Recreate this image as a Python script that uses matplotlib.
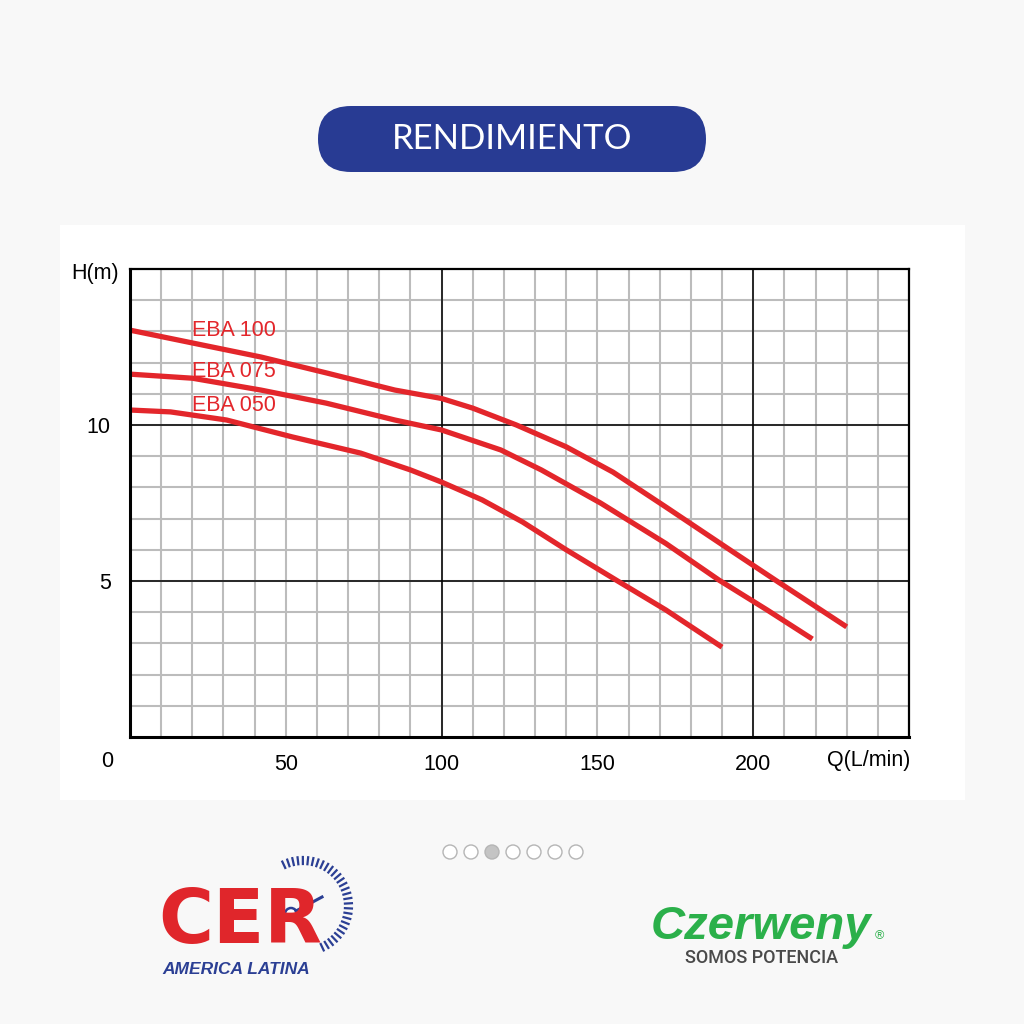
import numpy as np
import matplotlib
matplotlib.use("Agg")
import matplotlib.pyplot as plt
from matplotlib.patches import FancyBboxPatch, Rectangle, Circle

# pump curves: flow Q (L/min) and head H (m)
q_100 = [0, 20, 42, 63, 85, 100, 110, 124, 140, 155, 172, 194, 208, 230]
h_100 = [13.04, 12.63, 12.18, 11.67, 11.12, 10.85, 10.54, 10.0, 9.30, 8.49, 7.37, 5.9, 4.97, 3.53]
q_075 = [0, 20, 42, 63, 85, 100, 119, 132, 151, 172, 189, 204.5, 219]
h_075 = [11.63, 11.5, 11.12, 10.7, 10.16, 9.84, 9.2, 8.56, 7.5, 6.2, 5.03, 4.07, 3.14]
q_050 = [0, 13, 31, 52, 74, 90, 100, 113, 126, 140, 157, 172, 190]
h_050 = [10.48, 10.42, 10.16, 9.62, 9.1, 8.56, 8.17, 7.6, 6.89, 6.0, 4.97, 4.07, 2.88]

models = ["EBA 100", "EBA 075", "EBA 050"]
x_ticks = [50, 100, 150, 200]
y_ticks = [5, 10]

RED = "#e3262b"
BLUE = "#283b93"
FS = 15.5

plt.rcParams['font.family'] = ['Liberation Sans', 'DejaVu Sans']

fig = plt.figure(figsize=(10.24, 10.24), dpi=100)
fig.patch.set_facecolor("#f8f8f8")

# decoration layer in pixel coords
deco = fig.add_axes([0, 0, 1, 1])
deco.set_xlim(0, 1024)
deco.set_ylim(1024, 0)
deco.set_axis_off()

# white panel behind the chart
deco.add_patch(Rectangle((60, 225), 905, 575, facecolor="white", edgecolor="none"))

# title pill
deco.add_patch(FancyBboxPatch((318, 106), 388, 66, boxstyle="round,pad=0,rounding_size=33",
                              facecolor=BLUE, edgecolor="none"))
deco.text(512, 139, "RENDIMIENTO", color="white", fontsize=25, family="Lato",
          ha="center", va="center")

# slider dots
for i in range(7):
    fc = "#c4c4c4" if i == 2 else "white"
    deco.add_patch(Circle((450 + 21 * i, 852), 7, facecolor=fc, edgecolor="#b5b5b5", lw=1))

# CER logo (approximation)
deco.text(158, 922, "CER", color="#e0262b", fontsize=54, fontweight="heavy",
          family="DejaVu Sans", ha="left", va="center")
deco.text(162, 970, "AMERICA LATINA", color="#2b3f94", fontsize=12.5, fontweight="bold",
          style="italic", ha="left", va="center")
ang = np.linspace(np.radians(115), np.radians(-65), 30)
for a in ang:
    r1, r2 = 42, 49
    deco.plot([303 + r1 * np.cos(a), 303 + r2 * np.cos(a)],
              [906 - r1 * np.sin(a), 906 - r2 * np.sin(a)], color="#2b3f94", lw=1.6)
deco.add_patch(Circle((291, 914), 6, facecolor="white", edgecolor="#2b3f94", lw=1.8))
deco.plot([296, 322], [911, 897], color="#2b3f94", lw=2.2)

# Czerweny logo (approximation)
deco.text(651, 927, "Czerweny", color="#2bb04a", fontsize=34, fontweight="bold",
          style="italic", ha="left", va="center")
deco.text(879, 936, "®", color="#2bb04a", fontsize=9, ha="center", va="center")
deco.text(762, 958, "SOMOS POTENCIA", color="#4a4a4a", fontsize=13, family="Roboto",
          fontweight="medium", ha="center", va="center")

# chart axes
ax = fig.add_axes([130 / 1024, 1 - 737 / 1024, 779 / 1024, 468 / 1024])
ax.set_facecolor("white")
ax.set_xlim(0, 250)
ax.set_ylim(0, 15)

for x in np.arange(10, 250, 10):
    ax.axvline(x, color="#bcbcbc", lw=1.5, zorder=1)
for y in np.arange(1, 15, 1):
    ax.axhline(y, color="#bcbcbc", lw=1.5, zorder=1)
for x in [100, 200]:
    ax.axvline(x, color="black", lw=1.1, zorder=2)
for y in [5, 10]:
    ax.axhline(y, color="black", lw=1.1, zorder=2)

for q, h in [(q_100, h_100), (q_075, h_075), (q_050, h_050)]:
    ax.plot(q, h, color=RED, lw=3.8, zorder=4, solid_capstyle="butt", solid_joinstyle="round")

label_pos = [(19.9, 13.04), (19.9, 11.73), (19.9, 10.62)]
for name, (lx, ly) in zip(models, label_pos):
    ax.text(lx, ly, name, color=RED, fontsize=FS, ha="left", va="center", zorder=5)

ax.set_xticks(x_ticks)
ax.set_xticklabels([str(v) for v in x_ticks], fontsize=FS)
ax.set_yticks(y_ticks)
ax.set_yticklabels([str(v) for v in y_ticks], fontsize=FS)
ax.tick_params(length=0, pad=12)
ax.tick_params(axis="y", pad=14)

ax.text(-7.4, -0.8, "0", fontsize=FS, ha="center", va="center", clip_on=False)
ax.text(-11.2, 14.87, "H(m)", fontsize=FS, ha="center", va="center", clip_on=False)
ax.text(237, -0.74, "Q(L/min)", fontsize=FS, ha="center", va="center", clip_on=False)

for side in ["left", "bottom"]:
    ax.spines[side].set_linewidth(2.2)
for side in ["top", "right"]:
    ax.spines[side].set_linewidth(1.6)
for s in ax.spines.values():
    s.set_zorder(6)

fig.savefig("out.png", dpi=100, facecolor=fig.get_facecolor())
